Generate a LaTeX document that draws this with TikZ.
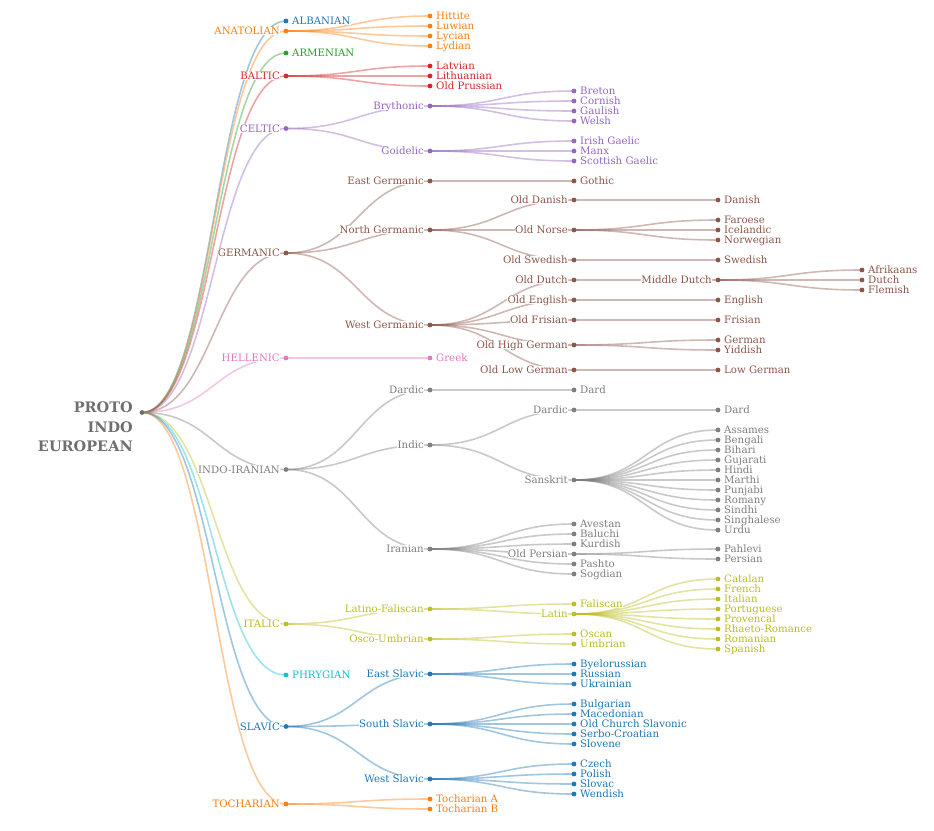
\documentclass[tikz,border=0pt]{standalone}
\usepackage{fontspec}
\setmainfont{DejaVu Serif}
\usetikzlibrary{calc}
\pgfdeclarelayer{bg}
\pgfsetlayers{bg,main}
\definecolor{cBlue}{HTML}{1F77B4}
\definecolor{cOrange}{HTML}{FF7F0E}
\definecolor{cGreen}{HTML}{2CA02C}
\definecolor{cRed}{HTML}{D62728}
\definecolor{cPurple}{HTML}{9467BD}
\definecolor{cBrown}{HTML}{8C564B}
\definecolor{cPink}{HTML}{E377C2}
\definecolor{cGray}{HTML}{7F7F7F}
\definecolor{cOlive}{HTML}{BCBD22}
\definecolor{cCyan}{HTML}{17BECF}
\definecolor{cRoot}{HTML}{6F6F6F}
\tikzset{
  tdot/.style={circle,fill=#1,inner sep=0pt,minimum size=4.8pt},
  tlbl/.style={text=#1,font=\fontsize{10.2}{12}\selectfont,fill=white,inner sep=0.4pt,text height=0.75em,text depth=0.05em},
  tlink/.style={draw=#1,draw opacity=0.42,line width=1.6pt},
}
\newcommand\tnL[5]{\node[tdot=#4,label={[tlbl=#4]left:#5}] (#1) at (#2,#3) {};}
\newcommand\tnR[5]{\node[tdot=#4,label={[tlbl=#4]right:#5}] (#1) at (#2,#3) {};}
\newcommand\lk[3]{\draw[tlink=#3] (#1.center) .. controls ($(#1.center)!0.5!(#1.center-|#2.center)$) and ($(#2.center)!0.5!(#2.center-|#1.center)$) .. (#2.center);}
\newcommand\lks[3]{\foreach \cc in {#3}{\lk{#1}{\cc}{#2}}}
\begin{document}
\begin{tikzpicture}[x=1pt,y=-1pt,label distance=3pt]
\useasboundingbox (0,0) rectangle (934,830);
% root
\node[tdot=cRoot] (root) at (142,412.5) {};
\node[font=\bfseries\fontsize{14.5}{19.7}\selectfont,text=cRoot,align=right,anchor=north east,inner sep=0pt] (rootlbl) at (133,401.5) {PROTO\\INDO\\EUROPEAN};
% depth 1
\tnR{alb}{286}{21}{cBlue}{ALBANIAN}
\tnL{ana}{286}{31}{cOrange}{ANATOLIAN}
\tnR{arm}{286}{53}{cGreen}{ARMENIAN}
\tnL{bal}{286}{76}{cRed}{BALTIC}
\tnL{cel}{286}{128.5}{cPurple}{CELTIC}
\tnL{ger}{286}{253}{cBrown}{GERMANIC}
\tnL{hel}{286}{358}{cPink}{HELLENIC}
\tnL{ii}{286}{469.5}{cGray}{INDO-IRANIAN}
\tnL{ita}{286}{624}{cOlive}{ITALIC}
\tnR{phr}{286}{675}{cCyan}{PHRYGIAN}
\tnL{sla}{286}{726.5}{cBlue}{SLAVIC}
\tnL{toc}{286}{804}{cOrange}{TOCHARIAN}
% depth 2
\tnR{hit}{430}{16}{cOrange}{Hittite}
\tnR{luw}{430}{26}{cOrange}{Luwian}
\tnR{lyc}{430}{36}{cOrange}{Lycian}
\tnR{lyd}{430}{46}{cOrange}{Lydian}
\tnR{lat}{430}{66}{cRed}{Latvian}
\tnR{lit}{430}{76}{cRed}{Lithuanian}
\tnR{opr}{430}{86}{cRed}{Old Prussian}
\tnL{bry}{430}{106}{cPurple}{Brythonic}
\tnL{goi}{430}{151}{cPurple}{Goidelic}
\tnL{eg}{430}{181}{cBrown}{East Germanic}
\tnL{ng}{430}{230}{cBrown}{North Germanic}
\tnL{wg}{430}{325}{cBrown}{West Germanic}
\tnR{gre}{430}{358}{cPink}{Greek}
\tnL{dara}{430}{390}{cGray}{Dardic}
\tnL{ind}{430}{445}{cGray}{Indic}
\tnL{ira}{430}{549}{cGray}{Iranian}
\tnL{lf}{430}{609}{cOlive}{Latino-Faliscan}
\tnL{ou}{430}{639}{cOlive}{Osco-Umbrian}
\tnL{es}{430}{674}{cBlue}{East Slavic}
\tnL{ss}{430}{724}{cBlue}{South Slavic}
\tnL{ws}{430}{779}{cBlue}{West Slavic}
\tnR{ta}{430}{799}{cOrange}{Tocharian A}
\tnR{tb}{430}{809}{cOrange}{Tocharian B}
% depth 3
\tnR{bre}{574}{91}{cPurple}{Breton}
\tnR{cor}{574}{101}{cPurple}{Cornish}
\tnR{gau}{574}{111}{cPurple}{Gaulish}
\tnR{wel}{574}{121}{cPurple}{Welsh}
\tnR{iri}{574}{141}{cPurple}{Irish Gaelic}
\tnR{man}{574}{151}{cPurple}{Manx}
\tnR{sco}{574}{161}{cPurple}{Scottish Gaelic}
\tnR{got}{574}{181}{cBrown}{Gothic}
\tnL{oda}{574}{200}{cBrown}{Old Danish}
\tnL{ono}{574}{230}{cBrown}{Old Norse}
\tnL{osw}{574}{260}{cBrown}{Old Swedish}
\tnL{odu}{574}{280}{cBrown}{Old Dutch}
\tnL{oen}{574}{300}{cBrown}{Old English}
\tnL{ofr}{574}{320}{cBrown}{Old Frisian}
\tnL{ohg}{574}{345}{cBrown}{Old High German}
\tnL{olg}{574}{370}{cBrown}{Old Low German}
\tnR{darda}{574}{390}{cGray}{Dard}
\tnL{darb}{574}{410}{cGray}{Dardic}
\tnL{san}{574}{480}{cGray}{Sanskrit}
\tnR{ave}{574}{524}{cGray}{Avestan}
\tnR{balu}{574}{534}{cGray}{Baluchi}
\tnR{kur}{574}{544}{cGray}{Kurdish}
\tnL{ope}{574}{554}{cGray}{Old Persian}
\tnR{pas}{574}{564}{cGray}{Pashto}
\tnR{sog}{574}{574}{cGray}{Sogdian}
\tnR{fal}{574}{604}{cOlive}{Faliscan}
\tnL{lati}{574}{614}{cOlive}{Latin}
\tnR{osc}{574}{634}{cOlive}{Oscan}
\tnR{umb}{574}{644}{cOlive}{Umbrian}
\tnR{bye}{574}{664}{cBlue}{Byelorussian}
\tnR{rus}{574}{674}{cBlue}{Russian}
\tnR{ukr}{574}{684}{cBlue}{Ukrainian}
\tnR{bul}{574}{704}{cBlue}{Bulgarian}
\tnR{mac}{574}{714}{cBlue}{Macedonian}
\tnR{ocs}{574}{724}{cBlue}{Old Church Slavonic}
\tnR{sc}{574}{734}{cBlue}{Serbo-Croatian}
\tnR{slo}{574}{744}{cBlue}{Slovene}
\tnR{cze}{574}{764}{cBlue}{Czech}
\tnR{pol}{574}{774}{cBlue}{Polish}
\tnR{slv}{574}{784}{cBlue}{Slovac}
\tnR{wen}{574}{794}{cBlue}{Wendish}
% depth 4
\tnR{dan}{718}{200}{cBrown}{Danish}
\tnR{far}{718}{220}{cBrown}{Faroese}
\tnR{ice}{718}{230}{cBrown}{Icelandic}
\tnR{nor}{718}{240}{cBrown}{Norwegian}
\tnR{swe}{718}{260}{cBrown}{Swedish}
\tnL{md}{718}{280}{cBrown}{Middle Dutch}
\tnR{eng}{718}{300}{cBrown}{English}
\tnR{fri}{718}{320}{cBrown}{Frisian}
\tnR{grm}{718}{340}{cBrown}{German}
\tnR{yid}{718}{350}{cBrown}{Yiddish}
\tnR{lgr}{718}{370}{cBrown}{Low German}
\tnR{dardb}{718}{410}{cGray}{Dard}
\tnR{ass}{718}{430}{cGray}{Assames}
\tnR{ben}{718}{440}{cGray}{Bengali}
\tnR{bih}{718}{450}{cGray}{Bihari}
\tnR{guj}{718}{460}{cGray}{Gujarati}
\tnR{hin}{718}{470}{cGray}{Hindi}
\tnR{mar}{718}{480}{cGray}{Marthi}
\tnR{pun}{718}{490}{cGray}{Punjabi}
\tnR{rom}{718}{500}{cGray}{Romany}
\tnR{sin}{718}{510}{cGray}{Sindhi}
\tnR{sing}{718}{520}{cGray}{Singhalese}
\tnR{urd}{718}{530}{cGray}{Urdu}
\tnR{pah}{718}{549}{cGray}{Pahlevi}
\tnR{per}{718}{559}{cGray}{Persian}
\tnR{cat}{718}{579}{cOlive}{Catalan}
\tnR{fre}{718}{589}{cOlive}{French}
\tnR{itl}{718}{599}{cOlive}{Italian}
\tnR{por}{718}{609}{cOlive}{Portuguese}
\tnR{pro}{718}{619}{cOlive}{Provencal}
\tnR{rha}{718}{629}{cOlive}{Rhaeto-Romance}
\tnR{rmn}{718}{639}{cOlive}{Romanian}
\tnR{spa}{718}{649}{cOlive}{Spanish}
% depth 5
\tnR{afr}{862}{270}{cBrown}{Afrikaans}
\tnR{dut}{862}{280}{cBrown}{Dutch}
\tnR{fle}{862}{290}{cBrown}{Flemish}
% links
\begin{pgfonlayer}{bg}
\lk{root}{alb}{cBlue}
\lk{root}{ana}{cOrange}
\lk{root}{arm}{cGreen}
\lk{root}{bal}{cRed}
\lk{root}{cel}{cPurple}
\lk{root}{ger}{cBrown}
\lk{root}{hel}{cPink}
\lk{root}{ii}{cGray}
\lk{root}{ita}{cOlive}
\lk{root}{phr}{cCyan}
\lk{root}{sla}{cBlue}
\lk{root}{toc}{cOrange}
\lks{ana}{cOrange}{hit,luw,lyc,lyd}
\lks{bal}{cRed}{lat,lit,opr}
\lks{cel}{cPurple}{bry,goi}
\lks{bry}{cPurple}{bre,cor,gau,wel}
\lks{goi}{cPurple}{iri,man,sco}
\lks{ger}{cBrown}{eg,ng,wg}
\lks{eg}{cBrown}{got}
\lks{ng}{cBrown}{oda,ono,osw}
\lks{oda}{cBrown}{dan}
\lks{ono}{cBrown}{far,ice,nor}
\lks{osw}{cBrown}{swe}
\lks{wg}{cBrown}{odu,oen,ofr,ohg,olg}
\lks{odu}{cBrown}{md}
\lks{md}{cBrown}{afr,dut,fle}
\lks{oen}{cBrown}{eng}
\lks{ofr}{cBrown}{fri}
\lks{ohg}{cBrown}{grm,yid}
\lks{olg}{cBrown}{lgr}
\lks{hel}{cPink}{gre}
\lks{ii}{cGray}{dara,ind,ira}
\lks{dara}{cGray}{darda}
\lks{ind}{cGray}{darb,san}
\lks{darb}{cGray}{dardb}
\lks{san}{cGray}{ass,ben,bih,guj,hin,mar,pun,rom,sin,sing,urd}
\lks{ira}{cGray}{ave,balu,kur,ope,pas,sog}
\lks{ope}{cGray}{pah,per}
\lks{ita}{cOlive}{lf,ou}
\lks{lf}{cOlive}{fal,lati}
\lks{lati}{cOlive}{cat,fre,itl,por,pro,rha,rmn,spa}
\lks{ou}{cOlive}{osc,umb}
\lks{sla}{cBlue}{es,ss,ws}
\lks{es}{cBlue}{bye,rus,ukr}
\lks{ss}{cBlue}{bul,mac,ocs,sc,slo}
\lks{ws}{cBlue}{cze,pol,slv,wen}
\lks{toc}{cOrange}{ta,tb}
\end{pgfonlayer}
\end{tikzpicture}
\end{document}
